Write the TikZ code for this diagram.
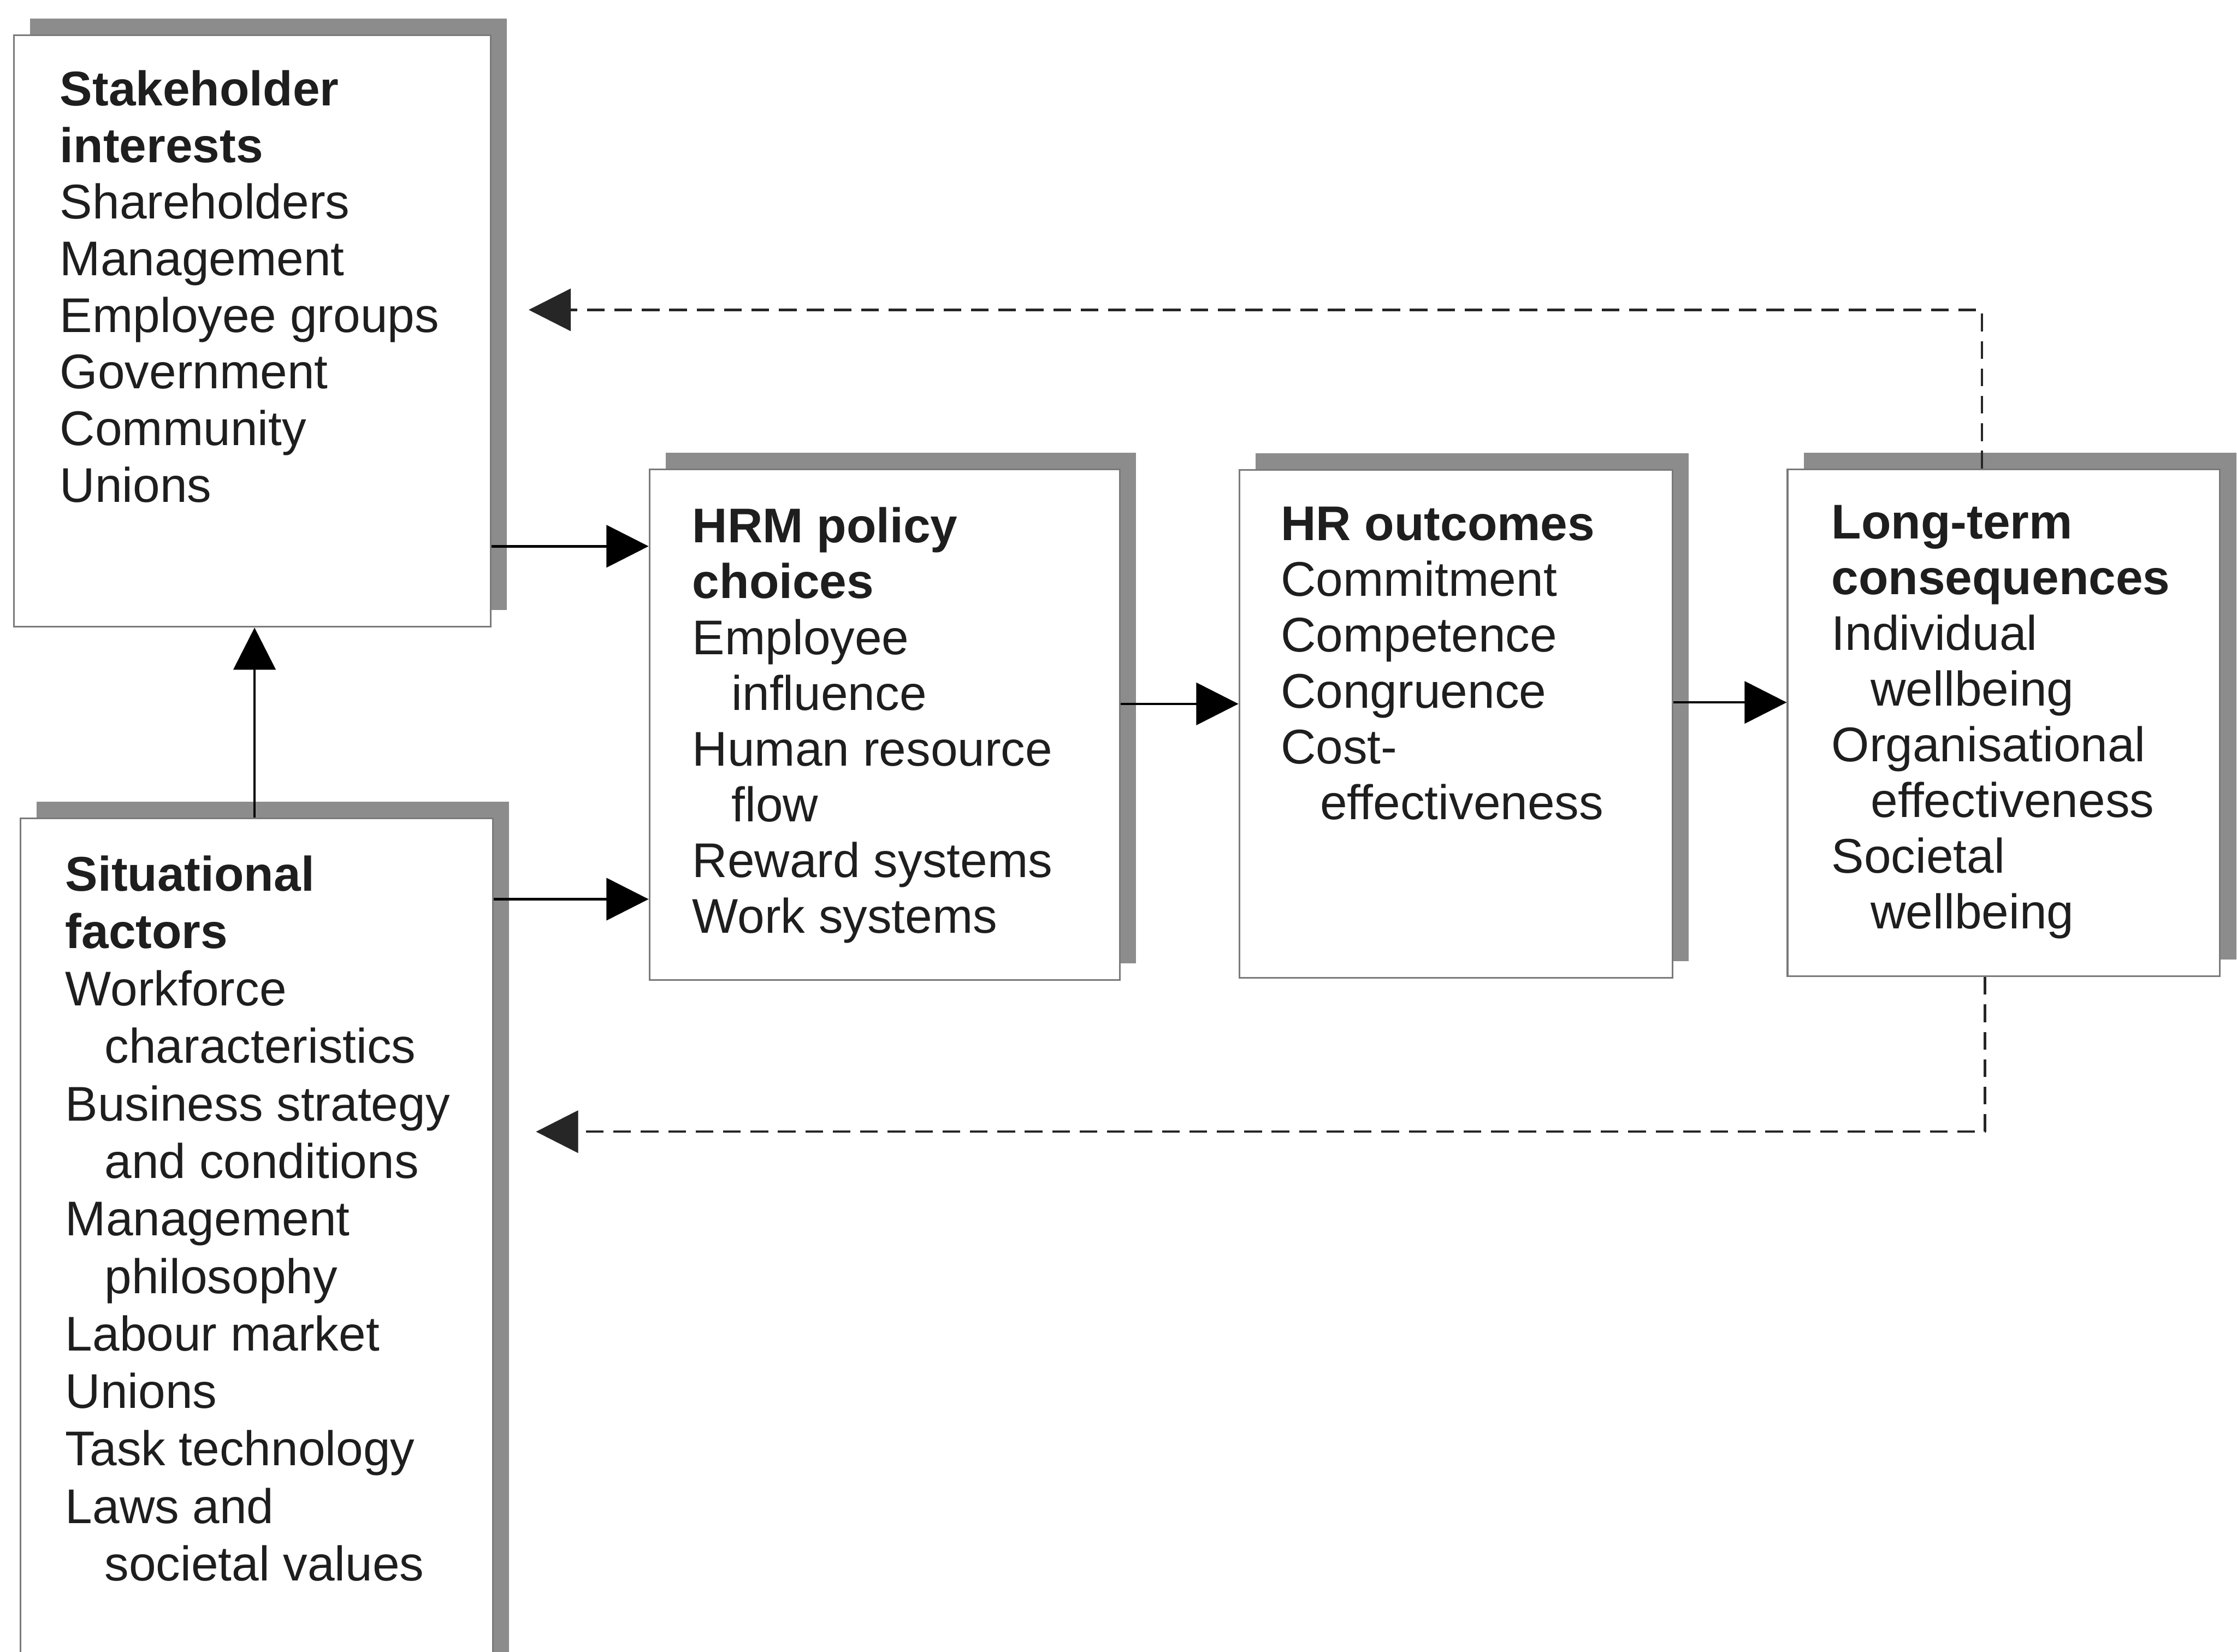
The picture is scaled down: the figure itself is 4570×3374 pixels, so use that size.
\documentclass[tikz,border=0pt]{standalone}
\usepackage{fontspec}
\setmainfont{Liberation Sans}
\usetikzlibrary{arrows.meta,shadows}

\definecolor{inkc}{HTML}{1E1E1E}
\definecolor{framec}{HTML}{7A7A7A}
\definecolor{shadec}{HTML}{8C8C8C}

% indentation of continued list entries
\newcommand\subindent{\hspace*{0.80cm}}

\tikzset{
  panel/.style={draw=framec, line width=0.035cm, fill=white, anchor=north west,
    inner sep=0pt,
    general shadow={fill=shadec, shadow xshift=0.33cm, shadow yshift=0.34cm}},
  paneltext/.style={anchor=north west, inner sep=0pt, align=left, text=inkc,
    font=\fontsize{28.3pt}{32.9pt}\selectfont},
  widetext/.style={paneltext, font=\fontsize{28.3pt}{33.4pt}\selectfont},
  tighttext/.style={paneltext, font=\fontsize{28.3pt}{32.4pt}\selectfont},
  flow/.style={draw=black, line width=0.05cm,
    -{Triangle[length=0.86cm,width=0.86cm]}},
  feedback/.style={flow, draw=black!85, line join=round,
    dash pattern=on 0.36cm off 0.2cm},
}

\begin{document}
\begin{tikzpicture}[x=0.01cm,y=-0.01cm]
\useasboundingbox (0,0) rectangle (4570,3374);
\fill[white] (0,0) rectangle (4570,3374);
\clip (0,0) rectangle (4570,3374);

% panels
\node[panel, minimum width=9.73cm, minimum height=12.08cm] (stake) at (27,70) {};
\node[panel, minimum width=9.65cm, minimum height=18cm]    (sit)   at (40,1670) {};
\node[panel, minimum width=9.60cm, minimum height=10.43cm] (hrm)   at (1325,957) {};
\node[panel, minimum width=8.85cm, minimum height=10.37cm] (hrout) at (2530,958) {};
\node[panel, minimum width=8.83cm, minimum height=10.35cm] (ltc)   at (3650,957) {};

% panel contents
\node[paneltext] (stakeT) at ([shift={(95,73)}]stake.north west)
  {\textbf{Stakeholder}\\ \textbf{interests}\\ Shareholders\\ Management\\
   Employee groups\\ Government\\ Community\\ Unions};

\node[widetext] (sitT) at ([shift={(93,77)}]sit.north west)
  {\textbf{Situational}\\ \textbf{factors}\\ Workforce\\ \subindent characteristics\\
   Business strategy\\ \subindent and conditions\\ Management\\ \subindent philosophy\\
   Labour market\\ Unions\\ Task technology\\ Laws and\\ \subindent societal values};

\node[tighttext] (hrmT) at ([shift={(89,79)}]hrm.north west)
  {\textbf{HRM policy}\\ \textbf{choices}\\ Employee\\ \subindent influence\\
   Human resource\\ \subindent flow\\ Reward systems\\ Work systems};

\node[tighttext] (hroutT) at ([shift={(86,77)}]hrout.north west)
  {\textbf{HR outcomes}\\ Commitment\\ Competence\\ Congruence\\ Cost-\\
   \subindent effectiveness};

\node[tighttext] (ltcT) at ([shift={(91,74)}]ltc.north west)
  {\textbf{Long-term}\\ \textbf{consequences}\\ Individual\\ \subindent wellbeing\\
   Organisational\\ \subindent effectiveness\\ Societal\\ \subindent wellbeing};

% main flow
\draw[flow] (sit.north -| 520,0) -- (stake.south -| 520,0);
\draw[flow] (stake.east |- 0,1116) -- (hrm.west |- 0,1116);
\draw[flow] (sit.east |- 0,1837) -- (hrm.west |- 0,1837);
\draw[flow] (hrm.east |- 0,1438) -- (hrout.west |- 0,1438);
\draw[flow] (hrout.east |- 0,1435) -- (ltc.west |- 0,1435);

% feedback loops
\coordinate (backTop) at (1080,633);
\coordinate (backLow) at (1095,2312);
\draw[feedback] (ltc.north -| 4049,0) |- (backTop);
\draw[feedback] (ltc.south -| 4055,0) |- (backLow);
\end{tikzpicture}
\end{document}
